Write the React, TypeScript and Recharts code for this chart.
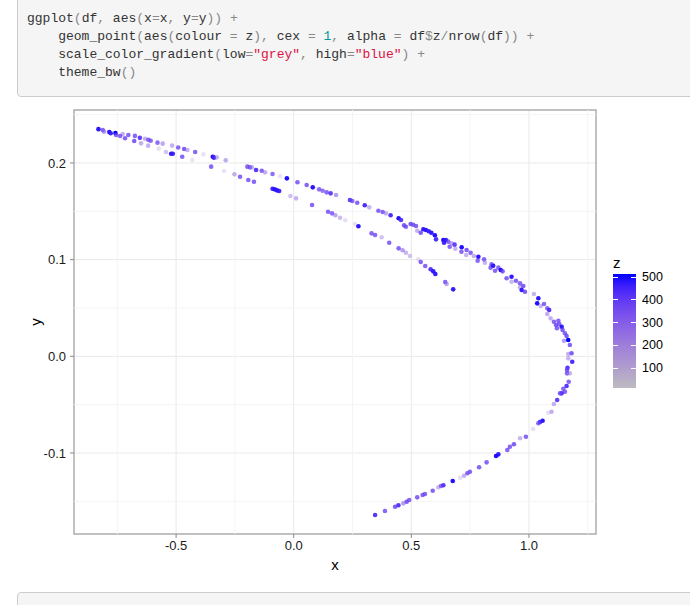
import {
  ScatterChart,
  Scatter,
  XAxis,
  YAxis,
  CartesianGrid,
  ReferenceLine,
  ReferenceArea,
  Legend,
} from "recharts"

// outer arc (long curve)
const outerX = [
  -0.83, -0.812, -0.784, -0.758, -0.727, -0.703, -0.675, -0.654, -0.632, -0.618, -0.608, -0.579, -0.557, -0.517,
  -0.491, -0.466, -0.452, -0.419, -0.384, -0.344, -0.339, -0.327, -0.289, -0.197, -0.186, -0.178, -0.16, -0.136,
  -0.122, -0.09, -0.058, -0.029, 0.016, 0.055, 0.081, 0.108, 0.123, 0.14, 0.157, 0.18, 0.239, 0.249, 0.27, 0.302,
  0.321, 0.36, 0.378, 0.392, 0.412, 0.446, 0.456, 0.469, 0.477, 0.497, 0.508, 0.52, 0.525, 0.54, 0.551, 0.562,
  0.574, 0.585, 0.6, 0.605, 0.636, 0.639, 0.647, 0.657, 0.663, 0.671, 0.684, 0.687, 0.713, 0.714, 0.733, 0.735,
  0.752, 0.766, 0.782, 0.785, 0.809, 0.813, 0.837, 0.841, 0.848, 0.856, 0.87, 0.88, 0.888, 0.905, 0.926, 0.926,
  0.945, 0.962, 0.962, 0.969, 0.976, 0.983, 1.021, 1.035, 1.04, 1.05, 1.064, 1.078, 1.078, 1.086, 1.092, 1.106,
  1.115, 1.119, 1.125, 1.129, 1.139, 1.143, 1.149, 1.153, 1.16, 1.167, 1.174, 1.181, 1.167, 1.167, 1.184, 1.164,
  1.162, 1.162, 1.174, 1.169, 1.16, 1.146, 1.153, 1.139, 1.132, 1.12, 1.106, 1.096, 1.082, 1.058, 1.047, 1.04,
  1.018, 0.987, 0.962, 0.936, 0.919, 0.908, 0.87, 0.86, 0.82, 0.788, 0.749, 0.738, 0.724, 0.707, 0.676, 0.636,
  0.626, 0.615, 0.591, 0.558, 0.548, 0.525, 0.491, 0.48, 0.466, 0.445, 0.431, 0.388, 0.346,
]
const outerY = [
  0.235, 0.234, 0.232, 0.231, 0.23, 0.229, 0.228, 0.226, 0.225, 0.224, 0.223, 0.221, 0.22, 0.218,
  0.216, 0.2145, 0.2134, 0.2113, 0.2089, 0.2065, 0.2055, 0.2058, 0.2028, 0.1962, 0.1955, 0.1955, 0.1927, 0.192,
  0.1903, 0.1886, 0.1862, 0.1841, 0.18, 0.1772, 0.1748, 0.1727, 0.1713, 0.1696, 0.1686, 0.1669, 0.1617, 0.1607, 0.1589, 0.1562,
  0.1541, 0.1506, 0.1493, 0.1479, 0.1459, 0.1428, 0.141, 0.1355, 0.1341, 0.1369, 0.1361, 0.1348, 0.1299, 0.1279, 0.1314, 0.1307,
  0.1293, 0.1279, 0.1252, 0.121, 0.1203, 0.1175, 0.1203, 0.1186, 0.1134, 0.1169, 0.1155, 0.1113, 0.1082, 0.1128, 0.1048, 0.11,
  0.1072, 0.1038, 0.0989, 0.103, 0.1003, 0.0968, 0.0917, 0.0952, 0.0937, 0.0885, 0.0917, 0.0893, 0.0879, 0.0807, 0.0823, 0.0772,
  0.0782, 0.0755, 0.0714, 0.0686, 0.0727, 0.0668, 0.0644, 0.0548, 0.06, 0.052, 0.0541, 0.0497, 0.0438, 0.0479, 0.0393, 0.0358,
  0.0324, 0.029, 0.0368, 0.0334, 0.0306, 0.0272, 0.0161, 0.0238, 0.021, 0.0169, 0.0117, 0.0031, 0.0024, -0.0021, -0.0056, -0.0118,
  -0.0142, -0.0176, -0.0176, -0.0263, -0.0307, -0.0335, -0.0366, -0.0383, -0.0383, -0.0452, -0.0493, -0.0573, -0.0583, -0.0666, -0.068, -0.0693,
  -0.0752, -0.0832, -0.0848, -0.091, -0.0935, -0.0969, -0.1014, -0.1031, -0.1097, -0.1148, -0.1194, -0.121, -0.1235, -0.1256, -0.129, -0.1334,
  -0.1341, -0.1355, -0.139, -0.1424, -0.1435, -0.1459, -0.1486, -0.1504, -0.1521, -0.1541, -0.1556, -0.16, -0.1642,
]
const outerZ = [
  485, 390, 485, 500, 260, 390, 390, 440, 260, 390, 380, 380, 280, 260,
  390, 400, 260, 390, 130, 490, 460, 250, 270, 390, 390, 260, 450, 390,
  270, 380, 130, 490, 390, 390, 485, 380, 370, 390, 440, 300, 440, 390, 390, 460,
  250, 390, 390, 270, 460, 490, 450, 400, 390, 400, 390, 390, 260, 400, 480, 480,
  470, 480, 490, 460, 490, 470, 475, 390, 390, 280, 440, 250, 390, 490, 250, 400,
  390, 260, 390, 485, 390, 250, 390, 390, 480, 390, 390, 490, 400, 390, 480, 250,
  390, 390, 260, 480, 400, 400, 250, 490, 485, 250, 390, 390, 270, 450, 260, 390,
  400, 390, 390, 390, 480, 400, 300, 390, 400, 500, 390, 400, 260, 250, 460, 450,
  400, 390, 250, 390, 450, 390, 390, 450, 390, 440, 260, 260, 140, 485, 460, 390,
  140, 390, 250, 400, 390, 390, 480, 490, 390, 390, 390, 390, 260, 150, 490, 450,
  390, 250, 390, 390, 390, 390, 390, 400, 300, 450, 400, 390, 450,
]

// inner arc (shorter curve ending near x = 0.68)
const innerX = [
  -0.806, -0.778, -0.755, -0.738, -0.717, -0.678, -0.649, -0.619, -0.574, -0.543, -0.521, -0.514, -0.474, -0.431,
  -0.351, -0.296, -0.252, -0.228, -0.193, -0.169, -0.09, -0.081, -0.071, -0.062, -0.014, 0.01, 0.078, 0.146,
  0.163, 0.177, 0.197, 0.219, 0.261, 0.275, 0.331, 0.346, 0.374, 0.406, 0.446, 0.463, 0.477, 0.494,
  0.53, 0.54, 0.559, 0.582, 0.593, 0.602, 0.644, 0.65, 0.678,
]
const innerY = [
  0.2324, 0.2307, 0.2289, 0.2279, 0.2255, 0.2227, 0.2203, 0.2179, 0.2148, 0.2113, 0.2096, 0.2096, 0.2065, 0.2031,
  0.1962, 0.1917, 0.1883, 0.1858, 0.1824, 0.1806, 0.1734, 0.1727, 0.1717, 0.171, 0.1658, 0.1634, 0.1565, 0.1496,
  0.1479, 0.1459, 0.1434, 0.1407, 0.1369, 0.1345, 0.1272, 0.1255, 0.1231, 0.1175, 0.1117, 0.1097, 0.1072, 0.1038,
  0.1003, 0.0975, 0.0934, 0.09, 0.0879, 0.0851, 0.0769, 0.0748, 0.0693,
]
const innerZ = [
  300, 470, 390, 390, 390, 400, 260, 260, 140, 220, 480, 470, 390, 130,
  390, 130, 260, 390, 390, 390, 470, 480, 485, 470, 230, 260, 390, 390,
  380, 280, 240, 140, 130, 485, 390, 390, 220, 390, 390, 300, 250, 220,
  140, 390, 390, 450, 480, 480, 390, 280, 480,
]

const xTicks = [-0.5, 0, 0.5, 1]
const yTicks = [-0.1, 0, 0.1, 0.2]
const xMinor = [-0.75, -0.25, 0.25, 0.75, 1.25]
const yMinor = [-0.15, -0.05, 0.05, 0.15, 0.25]
const legendTicks = [500, 400, 300, 200, 100]
const nRows = 500
const zRange = [1, 500]

const xDomain = [-0.934, 1.285]
const yDomain = [-0.1838, 0.2548]

const codeLines: [string, string][][] = [
  [["ggplot", "#333"], ["(", "#888"], ["df", "#333"], [", ", "#888"], ["aes", "#333"], ["(", "#888"], ["x", "#333"], ["=", "#888"], ["x", "#333"], [", ", "#888"], ["y", "#333"], ["=", "#888"], ["y", "#333"], [")) +", "#888"]],
  [["    geom_point", "#333"], ["(", "#888"], ["aes", "#333"], ["(", "#888"], ["colour ", "#333"], ["=", "#888"], [" z", "#333"], ["), ", "#888"], ["cex ", "#333"], ["=", "#888"], [" ", "#333"], ["1", "#099"], [", ", "#888"], ["alpha ", "#333"], ["=", "#888"], [" df", "#333"], ["$", "#888"], ["z", "#333"], ["/", "#888"], ["nrow", "#333"], ["(", "#888"], ["df", "#333"], [")) +", "#888"]],
  [["    scale_color_gradient", "#333"], ["(", "#888"], ["low", "#333"], ["=", "#888"], ['"grey"', "#d14"], [", ", "#888"], ["high", "#333"], ["=", "#888"], ['"blue"', "#d14"], [") +", "#888"]],
  [["    theme_bw", "#333"], ["()", "#888"]],
]

// grey -> blue in Lab space, like scale_color_gradient
const WHITE = [0.95047, 1, 1.08883]
function toLinear(c: number) {
  const v = c / 255
  return v <= 0.04045 ? v / 12.92 : Math.pow((v + 0.055) / 1.055, 2.4)
}
function fromLinear(v: number) {
  const c = v <= 0.0031308 ? 12.92 * v : 1.055 * Math.pow(v, 1 / 2.4) - 0.055
  return Math.round(Math.min(1, Math.max(0, c)) * 255)
}
function rgbToLab(rgb: number[]) {
  const [r, g, b] = rgb.map(toLinear)
  const X = 0.4124 * r + 0.3576 * g + 0.1805 * b
  const Y = 0.2126 * r + 0.7152 * g + 0.0722 * b
  const Z = 0.0193 * r + 0.1192 * g + 0.9505 * b
  const f = (t: number) => (t > 0.008856 ? Math.cbrt(t) : 7.787 * t + 16 / 116)
  const fx = f(X / WHITE[0])
  const fy = f(Y / WHITE[1])
  const fz = f(Z / WHITE[2])
  return [116 * fy - 16, 500 * (fx - fy), 200 * (fy - fz)]
}
function labToRgb([L, a, b]: number[]) {
  const fy = (L + 16) / 116
  const fx = fy + a / 500
  const fz = fy - b / 200
  const inv = (t: number) => (t ** 3 > 0.008856 ? t ** 3 : (t - 16 / 116) / 7.787)
  const X = WHITE[0] * inv(fx)
  const Y = WHITE[1] * inv(fy)
  const Z = WHITE[2] * inv(fz)
  const r = 3.2406 * X - 1.5372 * Y - 0.4986 * Z
  const g = -0.9689 * X + 1.8758 * Y + 0.0415 * Z
  const bl = 0.0557 * X - 0.204 * Y + 1.057 * Z
  return `rgb(${fromLinear(r)}, ${fromLinear(g)}, ${fromLinear(bl)})`
}
const lowLab = rgbToLab([190, 190, 190])
const highLab = rgbToLab([0, 0, 255])
function zColor(z: number) {
  const t = Math.min(1, Math.max(0, (z - zRange[0]) / (zRange[1] - zRange[0])))
  return labToRgb(lowLab.map((v, i) => v + (highLab[i] - v) * t))
}

const outerData = outerX.map((x, i) => ({ x, y: outerY[i], z: outerZ[i] }))
const innerData = innerX.map((x, i) => ({ x, y: innerY[i], z: innerZ[i] }))

const renderDot = (props: any) => {
  const { cx, cy, payload } = props
  return <circle cx={cx} cy={cy} r={2.3} fill={zColor(payload.z)} fillOpacity={payload.z / nRows} />
}

// colour bar legend, bar spans roughly z 13..514
const BAR_H = 114
const barTop = 514
const barBottom = 13
function ColourBar() {
  const stops = Array.from({ length: 11 }, (_, i) => {
    const z = barBottom + ((barTop - barBottom) * i) / 10
    return `${zColor(z)} ${i * 10}%`
  }).join(", ")
  const pos = (v: number) => ((barTop - v) / (barTop - barBottom)) * BAR_H
  return (
    <div style={{ position: "relative", width: 70, height: 140, fontFamily: '"Liberation Sans", Arial, sans-serif' }}>
      <div style={{ position: "absolute", left: 1, top: 2, fontSize: 15, lineHeight: "18px", color: "#000" }}>z</div>
      <div
        style={{
          position: "absolute",
          left: 1,
          top: 22,
          width: 23,
          height: BAR_H,
          background: `linear-gradient(to top, ${stops})`,
        }}
      >
        {legendTicks.map((v) => (
          <div key={v}>
            <div style={{ position: "absolute", left: 0, top: pos(v) - 0.5, width: 5, height: 1, background: "#fff" }} />
            <div style={{ position: "absolute", right: 0, top: pos(v) - 0.5, width: 5, height: 1, background: "#fff" }} />
          </div>
        ))}
      </div>
      {legendTicks.map((v) => (
        <div
          key={v}
          style={{ position: "absolute", left: 30, top: 22 + pos(v) - 8, fontSize: 12.5, lineHeight: "16px", color: "#000" }}
        >
          {v}
        </div>
      ))}
    </div>
  )
}

const boxStyle = {
  position: "absolute" as const,
  left: 17,
  width: 700,
  background: "#f5f5f5",
  border: "1px solid #cccccc",
  borderRadius: 4,
}

export default function App() {
  const tickStyle = { fill: "#1a1a1a", fontSize: 13 }
  return (
    <div style={{ position: "absolute", left: 0, top: 0, width: 690, height: 605, background: "#fff", overflow: "hidden" }}>
      <div style={{ ...boxStyle, top: -10, height: 105 }} />
      <div
        style={{
          position: "absolute",
          left: 27,
          top: 10,
          fontFamily: '"Liberation Mono", monospace',
          fontSize: 13,
          lineHeight: "18px",
          whiteSpace: "pre",
        }}
      >
        {codeLines.map((line, i) => (
          <div key={i}>
            {line.map(([t, c], j) => (
              <span key={j} style={{ color: c }}>
                {t}
              </span>
            ))}
          </div>
        ))}
      </div>

      <div style={{ position: "absolute", left: 0, top: 100, width: 690, height: 490 }}>
        <ScatterChart
          width={690}
          height={490}
          margin={{ top: 10, right: 94, bottom: 16, left: 14 }}
          style={{ fontFamily: '"Liberation Sans", Arial, sans-serif' }}
        >
          <CartesianGrid stroke="#e9e9e9" />
          {xMinor.map((v) => (
            <ReferenceLine key={"x" + v} x={v} stroke="#f4f4f4" />
          ))}
          {yMinor.map((v) => (
            <ReferenceLine key={"y" + v} y={v} stroke="#f4f4f4" />
          ))}
          <XAxis
            type="number"
            dataKey="x"
            domain={xDomain}
            ticks={xTicks}
            allowDataOverflow
            tickFormatter={(v) => v.toFixed(1)}
            axisLine={false}
            tickLine={{ stroke: "#8a8a8a" }}
            tickSize={4}
            tickMargin={3}
            tick={tickStyle}
            height={40}
            label={{ value: "x", position: "insideBottom", offset: 4, style: { fontSize: 15, fill: "#000" } }}
          />
          <YAxis
            type="number"
            dataKey="y"
            domain={yDomain}
            ticks={yTicks}
            allowDataOverflow
            tickFormatter={(v) => v.toFixed(1)}
            axisLine={false}
            tickLine={{ stroke: "#8a8a8a" }}
            tickSize={4}
            tickMargin={4}
            tick={tickStyle}
            width={60}
            label={{
              value: "y",
              angle: -90,
              position: "insideLeft",
              offset: 22,
              style: { textAnchor: "middle", fontSize: 15, fill: "#000" },
            }}
          />
          <Scatter data={outerData} shape={renderDot} isAnimationActive={false} />
          <Scatter data={innerData} shape={renderDot} isAnimationActive={false} />
          <ReferenceArea
            x1={xDomain[0]}
            x2={xDomain[1]}
            y1={yDomain[0]}
            y2={yDomain[1]}
            fill="none"
            stroke="#b0b0b0"
            strokeWidth={1.5}
          />
          <Legend
            layout="horizontal"
            align="center"
            verticalAlign="middle"
            content={() => <ColourBar />}
            wrapperStyle={{ left: 612, top: 152, width: 70, height: 140 }}
          />
        </ScatterChart>
      </div>

      <div style={{ ...boxStyle, top: 592, height: 40 }} />
    </div>
  )
}
